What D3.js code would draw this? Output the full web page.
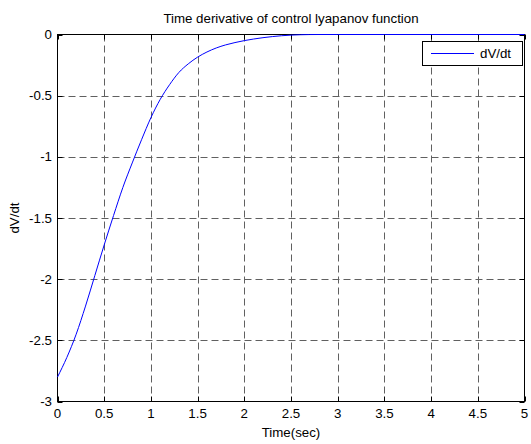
<!DOCTYPE html>
<html>
<head>
<meta charset="utf-8">
<script src="https://cdn.jsdelivr.net/npm/d3@7/dist/d3.min.js"></script>
<style>
  html, body { margin: 0; padding: 0; background: #fff; }
  svg { display: block; }
  text { font-family: "Liberation Sans", Arial, Helvetica, sans-serif; fill: #000; }
</style>
</head>
<body>
<svg id="chart" width="531" height="444"></svg>
<script>
// Time samples (s) and dV/dt values of the control Lyapunov function
const timeSec = [0, 0.1, 0.2, 0.3, 0.4, 0.5, 0.6, 0.7, 0.8, 0.9, 1.0, 1.1, 1.2, 1.3, 1.4, 1.5,
                 1.6, 1.7, 1.8, 1.9, 2.0, 2.1, 2.2, 2.3, 2.4, 2.5, 2.6, 2.7, 2.8, 3.0, 3.5, 4.0, 4.5, 5.0];
const dVdt = [-2.80, -2.64, -2.45, -2.22, -1.97, -1.72, -1.48, -1.25, -1.05, -0.86, -0.68, -0.53,
              -0.41, -0.31, -0.24, -0.185, -0.143, -0.11, -0.085, -0.066, -0.05, -0.037, -0.026,
              -0.017, -0.010, -0.005, -0.002, -0.0005, 0, 0, 0, 0, 0, 0];
const xTicks = [0, 0.5, 1, 1.5, 2, 2.5, 3, 3.5, 4, 4.5, 5];
const yTicks = [0, -0.5, -1, -1.5, -2, -2.5, -3];
const titleText = "Time derivative of control lyapanov function";
const xLabel = "Time(sec)";
const yLabel = "dV/dt";
const legendLabel = "dV/dt";

const svg = d3.select("#chart");
const plotL = 57.5, plotR = 524.5, plotT = 34.5, plotB = 401.5;
const fontSize = "13.3px";

const x = d3.scaleLinear().domain([0, 5]).range([plotL, plotR]);
const y = d3.scaleLinear().domain([-3, 0]).range([plotB, plotT]);

// dashed grid
const grid = svg.append("g").attr("stroke", "#606060").attr("stroke-width", 1)
  .attr("stroke-dasharray", "7,4").attr("fill", "none");
grid.selectAll("line.gx").data(xTicks.slice(1, -1)).enter().append("line")
  .attr("x1", d => Math.round(x(d)) + 0.5).attr("x2", d => Math.round(x(d)) + 0.5)
  .attr("y1", plotT).attr("y2", plotB);
grid.selectAll("line.gy").data(yTicks.slice(1, -1)).enter().append("line")
  .attr("y1", d => Math.round(y(d)) + 0.5).attr("y2", d => Math.round(y(d)) + 0.5)
  .attr("x1", plotL).attr("x2", plotR);

// inward tick marks on all four sides
const tickLen = 5;
const ticks = svg.append("g").attr("stroke", "#000").attr("stroke-width", 1);
xTicks.forEach(d => {
  const px = Math.round(x(d)) + 0.5;
  ticks.append("line").attr("x1", px).attr("x2", px).attr("y1", plotB).attr("y2", plotB - tickLen);
  ticks.append("line").attr("x1", px).attr("x2", px).attr("y1", plotT).attr("y2", plotT + tickLen);
});
yTicks.forEach(d => {
  const py = Math.round(y(d)) + 0.5;
  ticks.append("line").attr("y1", py).attr("y2", py).attr("x1", plotL).attr("x2", plotL + tickLen);
  ticks.append("line").attr("y1", py).attr("y2", py).attr("x1", plotR).attr("x2", plotR - tickLen);
});

// axes box
svg.append("rect").attr("x", plotL).attr("y", plotT)
  .attr("width", plotR - plotL).attr("height", plotB - plotT)
  .attr("fill", "none").attr("stroke", "#000").attr("stroke-width", 1);

// tick labels
svg.append("g").selectAll("text").data(xTicks).enter().append("text")
  .attr("x", d => x(d)).attr("y", 418).attr("text-anchor", "middle")
  .style("font-size", fontSize).text(d => String(d));
svg.append("g").selectAll("text").data(yTicks).enter().append("text")
  .attr("x", 52).attr("y", d => y(d)).attr("dy", "0.35em").attr("text-anchor", "end")
  .style("font-size", fontSize).text(d => String(d));

// curve
const line = d3.line().x((d, i) => x(timeSec[i])).y(d => y(d)).curve(d3.curveMonotoneX);
svg.append("path").datum(dVdt).attr("d", line)
  .attr("fill", "none").attr("stroke", "#0000ff").attr("stroke-width", 1);

// title and axis labels
svg.append("text").attr("x", (plotL + plotR) / 2).attr("y", 23).attr("text-anchor", "middle")
  .style("font-size", fontSize).text(titleText);
svg.append("text").attr("x", (plotL + plotR) / 2).attr("y", 437).attr("text-anchor", "middle")
  .style("font-size", fontSize).text(xLabel);
svg.append("text").attr("transform", `translate(19,${(plotT + plotB) / 2}) rotate(-90)`)
  .attr("text-anchor", "middle").style("font-size", fontSize).text(yLabel);

// legend
const lg = svg.append("g");
lg.append("rect").attr("x", 422.5).attr("y", 41.5).attr("width", 100).attr("height", 24)
  .attr("fill", "#fff").attr("stroke", "#000").attr("stroke-width", 1);
lg.append("line").attr("x1", 431).attr("x2", 474).attr("y1", 53.5).attr("y2", 53.5)
  .attr("stroke", "#0000ff").attr("stroke-width", 1);
lg.append("text").attr("x", 480).attr("y", 58).style("font-size", fontSize).text(legendLabel);
</script>
</body>
</html>
